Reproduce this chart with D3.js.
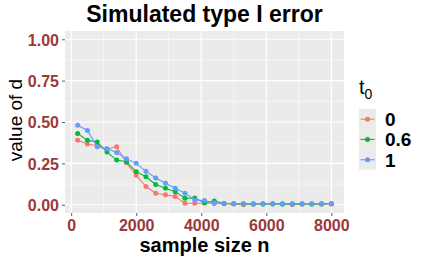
<!DOCTYPE html>
<html>
<head>
<meta charset="utf-8">
<script src="https://cdn.jsdelivr.net/npm/d3@7"></script>
<style>
  body { margin: 0; background: #fff; }
  text { font-family: "Liberation Sans", Arial, sans-serif; }
</style>
</head>
<body>
<div id="chart"></div>
<script>
// sample sizes and simulated type I error for each t0
var sampleSizes = [200, 500, 800, 1100, 1400, 1700, 2000, 2300, 2600, 2900, 3200, 3500, 3800, 4100,
    4400, 4700, 5000, 5300, 5600, 5900, 6200, 6500, 6800, 7100, 7400, 7700, 8000];
var err0  = [0.39, 0.367, 0.357, 0.337, 0.35, 0.253, 0.178, 0.11, 0.069, 0.06, 0.049, 0.009, 0.009, 0.01,
    0.008, 0.006, 0.005, 0.002, 0.005, 0.005, 0.006, 0.005, 0.002, 0.005, 0.005, 0.005, 0.005];
var err06 = [0.431, 0.389, 0.379, 0.318, 0.27, 0.26, 0.2, 0.169, 0.122, 0.099, 0.079, 0.039, 0.041, 0.012,
    0.022, 0.008, 0.006, 0.005, 0.005, 0.005, 0.005, 0.005, 0.005, 0.005, 0.004, 0.005, 0.006];
var err1  = [0.481, 0.449, 0.35, 0.339, 0.316, 0.278, 0.25, 0.202, 0.162, 0.13, 0.1, 0.07, 0.028, 0.026,
    0.012, 0.008, 0.006, 0.006, 0.006, 0.006, 0.006, 0.006, 0.006, 0.006, 0.006, 0.006, 0.006];
var seriesNames = ["0", "0.6", "1"];
var seriesColors = ["#F8766D", "#00BA38", "#619CFF"];
var xTicks = [0, 2000, 4000, 6000, 8000];
var yTicks = [0, 0.25, 0.5, 0.75, 1];

var series = [err0, err06, err1].map(function(vals, i){
    return {name: seriesNames[i], color: seriesColors[i],
        values: vals.map(function(v, j){ return {n: sampleSizes[j], d: v}; })};
});

var W = 425, H = 262;
var panel = {left: 65, right: 344, top: 31, bottom: 213};
var tickColor = "#9b3939";

var svg = d3.select("#chart").append("svg")
    .attr("width", W)
    .attr("height", H);

var x = d3.scaleLinear().domain([-190, 8390]).range([panel.left, panel.right]);
var y = d3.scaleLinear().domain([-0.05, 1.05]).range([panel.bottom, panel.top]);

// panel background
svg.append("rect")
    .attr("x", panel.left).attr("y", panel.top)
    .attr("width", panel.right - panel.left)
    .attr("height", panel.bottom - panel.top)
    .attr("fill", "#EBEBEB");

// minor grid
var xMinor = [1000, 3000, 5000, 7000];
var yMinor = [0.125, 0.375, 0.625, 0.875];
svg.selectAll(".xminor").data(xMinor).enter().append("line")
    .attr("x1", x).attr("x2", x)
    .attr("y1", panel.top).attr("y2", panel.bottom)
    .attr("stroke", "#fff").attr("stroke-width", 0.6);
svg.selectAll(".yminor").data(yMinor).enter().append("line")
    .attr("y1", y).attr("y2", y)
    .attr("x1", panel.left).attr("x2", panel.right)
    .attr("stroke", "#fff").attr("stroke-width", 0.6);

// major grid
svg.selectAll(".xmajor").data(xTicks).enter().append("line")
    .attr("x1", x).attr("x2", x)
    .attr("y1", panel.top).attr("y2", panel.bottom)
    .attr("stroke", "#fff").attr("stroke-width", 1.2);
svg.selectAll(".ymajor").data(yTicks).enter().append("line")
    .attr("y1", y).attr("y2", y)
    .attr("x1", panel.left).attr("x2", panel.right)
    .attr("stroke", "#fff").attr("stroke-width", 1.2);

// axes
var xAxis = svg.append("g")
    .attr("transform", "translate(0," + panel.bottom + ")")
    .call(d3.axisBottom(x).tickValues(xTicks).tickSize(3).tickPadding(3).tickFormat(d3.format("d")));
var yAxis = svg.append("g")
    .attr("transform", "translate(" + panel.left + ",0)")
    .call(d3.axisLeft(y).tickValues(yTicks).tickSize(3).tickPadding(3).tickFormat(d3.format(".2f")));

[xAxis, yAxis].forEach(function(ax){
    ax.select(".domain").remove();
    ax.selectAll(".tick line").attr("stroke", "#333").attr("stroke-width", 0.8);
    ax.selectAll(".tick text")
        .attr("fill", tickColor)
        .style("font-family", "'Liberation Sans', Arial, sans-serif")
        .style("font-size", "16px")
        .style("font-weight", "bold");
});
xAxis.selectAll(".tick text").attr("dy", "0.72em");
yAxis.selectAll(".tick text").attr("dy", "0.36em");

// lines and points
var line = d3.line()
    .x(function(d){ return x(d.n); })
    .y(function(d){ return y(d.d); });

series.forEach(function(s){
    svg.append("path")
        .datum(s.values)
        .attr("d", line)
        .attr("fill", "none")
        .attr("stroke", s.color)
        .attr("stroke-width", 1.1);
    svg.selectAll(".pt-" + s.name.replace(".", "")).data(s.values).enter().append("circle")
        .attr("cx", function(d){ return x(d.n); })
        .attr("cy", function(d){ return y(d.d); })
        .attr("r", 2.5)
        .attr("fill", s.color);
});

// title
svg.append("text")
    .attr("x", (panel.left + panel.right) / 2)
    .attr("y", 22)
    .attr("text-anchor", "middle")
    .style("font-size", "23px")
    .style("font-weight", "bold")
    .attr("fill", "#000")
    .text("Simulated type I error");

// axis titles
svg.append("text")
    .attr("x", (panel.left + panel.right) / 2)
    .attr("y", 252)
    .attr("text-anchor", "middle")
    .style("font-size", "20px")
    .style("font-weight", "bold")
    .attr("fill", "#000")
    .text("sample size n");

svg.append("text")
    .attr("transform", "translate(22," + ((panel.top + panel.bottom) / 2 - 2) + ") rotate(-90)")
    .attr("text-anchor", "middle")
    .style("font-size", "19px")
    .attr("fill", "#000")
    .text("value of d");

// legend
var legend = svg.append("g").attr("transform", "translate(359,0)");
var lt = legend.append("text")
    .attr("x", 0).attr("y", 94)
    .style("font-size", "20px")
    .attr("fill", "#000");
lt.append("tspan").text("t");
lt.append("tspan").attr("dy", 5).style("font-size", "14px").text("0");

var keys = legend.selectAll(".key").data(series).enter().append("g")
    .attr("transform", function(d, i){ return "translate(0," + (109 + i * 20.3) + ")"; });
keys.append("rect")
    .attr("width", 17).attr("height", 20.3)
    .attr("fill", "#EBEBEB");
keys.append("line")
    .attr("x1", 1.5).attr("x2", 15.5)
    .attr("y1", 10.15).attr("y2", 10.15)
    .attr("stroke", function(d){ return d.color; })
    .attr("stroke-width", 1.1);
keys.append("circle")
    .attr("cx", 8.5).attr("cy", 10.15).attr("r", 2.5)
    .attr("fill", function(d){ return d.color; });
keys.append("text")
    .attr("x", 26).attr("y", 10.15).attr("dy", "0.36em")
    .style("font-size", "19px")
    .style("font-weight", "bold")
    .attr("fill", "#000")
    .text(function(d){ return d.name; });
</script>
</body>
</html>
